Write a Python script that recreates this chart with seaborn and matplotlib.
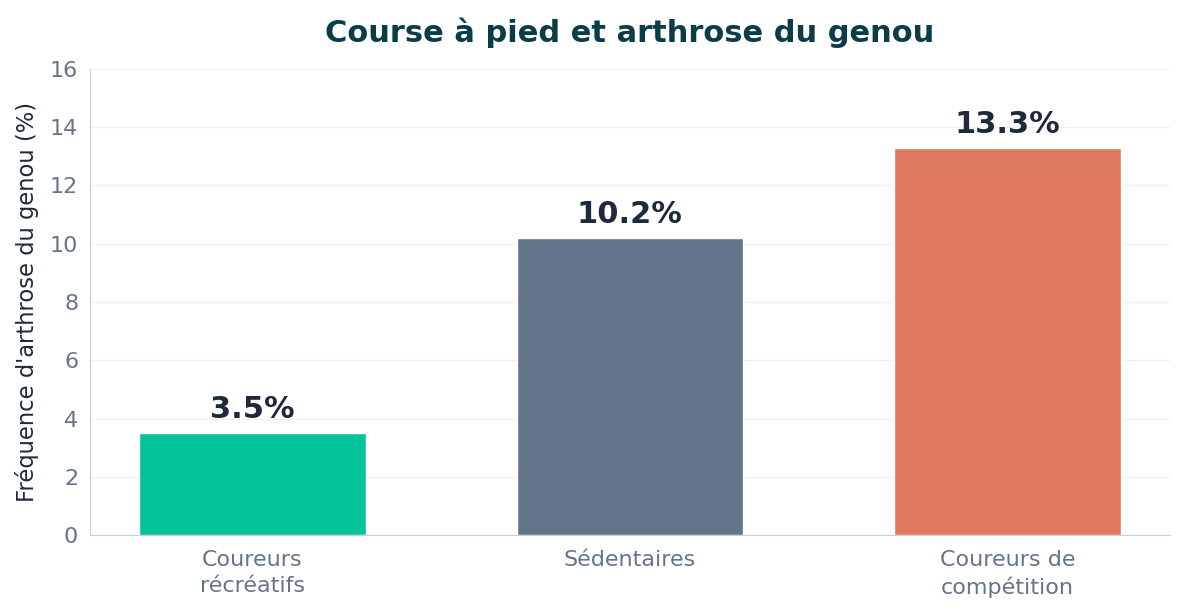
import matplotlib
matplotlib.use('Agg')
import matplotlib.pyplot as plt
import seaborn as sns
import pandas as pd

categories = ['Coureurs\nrécréatifs', 'Sédentaires', 'Coureurs de\ncompétition']
values = [3.5, 10.2, 13.3]
colors = ['#02C39A', '#64748B', '#E07A5F']

df = pd.DataFrame({'groupe': categories, 'freq': values})

sns.set_style('white')
plt.rcParams['font.family'] = ['DejaVu Sans']

fig, ax = plt.subplots(figsize=(11.84, 6.15), dpi=100)
sns.barplot(data=df, x='groupe', y='freq', hue='groupe', palette=colors,
            width=0.6, legend=False, ax=ax, saturation=1)

# étiquettes de valeur au-dessus des barres
for i, v in enumerate(values):
    ax.text(i, v + 0.3, f'{v}%', ha='center', va='bottom', fontsize=22,
            fontweight='bold', color='#1E293B')

ax.set_ylim(0, 16)
ax.set_xlim(-0.43, 2.43)
ax.set_yticks(range(0, 17, 2))
ax.yaxis.grid(True, color='#EEF0F2', linewidth=0.9, linestyle='-')
ax.set_axisbelow(True)
for s in ['top', 'right']:
    ax.spines[s].set_visible(False)
for s in ['left', 'bottom']:
    ax.spines[s].set_color('#C8D0D0')
ax.tick_params(axis='both', colors='#94A3B8', labelcolor='#64748B',
               labelsize=16, length=5)
ax.tick_params(axis='x', pad=6)
for lbl in ax.get_xticklabels():
    lbl.set_linespacing(1.35)
ax.set_xlabel('')
ax.set_ylabel("Fréquence d'arthrose du genou (%)", fontsize=16.3, color='#1E293B',
              labelpad=8)
ax.set_title('Course à pied et arthrose du genou', fontsize=22, fontweight='bold',
             color='#0B3C49', pad=19)

plt.subplots_adjust(left=0.076, right=0.988, top=0.888, bottom=0.13)
plt.savefig('out.png', dpi=100)
